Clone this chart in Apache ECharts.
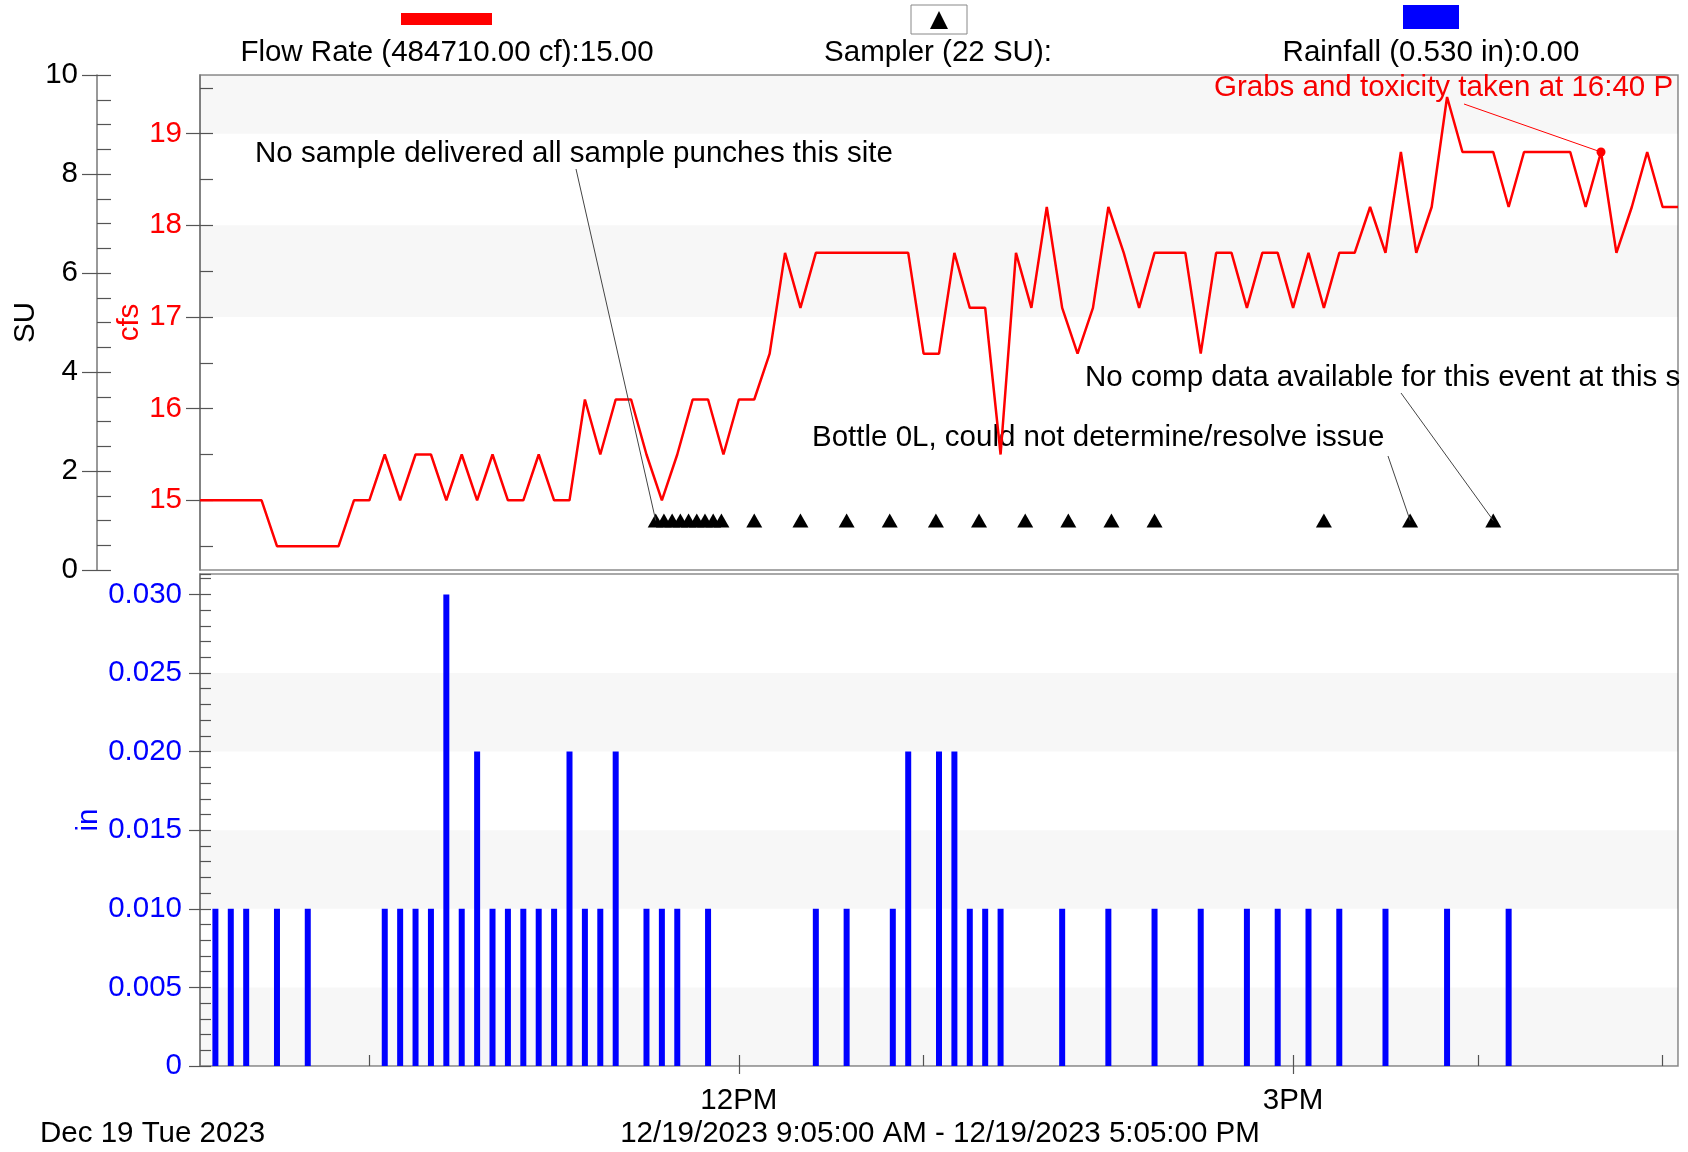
<!DOCTYPE html>
<html>
<head>
<meta charset="utf-8">
<script src="https://cdn.jsdelivr.net/npm/echarts@6/dist/echarts.min.js"></script>
<style>
  html, body { margin: 0; padding: 0; background: #fff; }
  #chart { width: 1688px; height: 1152px; }
</style>
</head>
<body>
<div id="chart"></div>
<script>
const startTime = '09:05'
const endTime = '17:05'
const stepMinutes = 5

// flow rate (cfs), one reading every 5 minutes from 9:05 AM
const flowValues = [
  15.0, 15.0, 15.0, 15.0, 15.0, 14.5, 14.5, 14.5, 14.5, 14.5, // 9:05
  15.0, 15.0, 15.5, 15.0, 15.5, 15.5, 15.0, 15.5, 15.0, 15.5, // 9:55
  15.0, 15.0, 15.5, 15.0, 15.0, 16.1, 15.5, 16.1, 16.1, 15.5, // 10:45
  15.0, 15.5, 16.1, 16.1, 15.5, 16.1, 16.1, 16.6, 17.7, 17.1, // 11:35
  17.7, 17.7, 17.7, 17.7, 17.7, 17.7, 17.7, 16.6, 16.6, 17.7, // 12:25
  17.1, 17.1, 15.5, 17.7, 17.1, 18.2, 17.1, 16.6, 17.1, 18.2, // 13:15
  17.7, 17.1, 17.7, 17.7, 17.7, 16.6, 17.7, 17.7, 17.1, 17.7, // 14:05
  17.7, 17.1, 17.7, 17.1, 17.7, 17.7, 18.2, 17.7, 18.8, 17.7, // 14:55
  18.2, 19.4, 18.8, 18.8, 18.8, 18.2, 18.8, 18.8, 18.8, 18.8, // 15:45
  18.2, 18.8, 17.7, 18.2, 18.8, 18.2, 18.2                    // 16:35
]

// sampler punches (SU)
const sampleTimes = ['11:33:00', '11:35:40', '11:38:20', '11:41:00', '11:43:40', '11:46:20', '11:49:00',
  '11:51:40', '11:54:20', '12:05', '12:20', '12:35', '12:49', '13:04', '13:18', '13:33', '13:47',
  '14:01', '14:15', '15:10', '15:38', '16:05']
const sampleValues = [1, 1, 1, 1, 1, 1, 1, 1, 1, 1, 1, 1, 1, 1, 1, 1, 1, 1, 1, 1, 1, 1]

// rainfall (in)
const rainTimes = ['09:10', '09:15', '09:20', '09:30', '09:40', '10:05', '10:10', '10:15', '10:20', '10:25',
  '10:30', '10:35', '10:40', '10:45', '10:50', '10:55', '11:00', '11:05', '11:10', '11:15',
  '11:20', '11:30', '11:35', '11:40', '11:50', '12:25', '12:35', '12:50', '12:55', '13:05',
  '13:10', '13:15', '13:20', '13:25', '13:45', '14:00', '14:15', '14:30', '14:45', '14:55',
  '15:05', '15:15', '15:30', '15:50', '16:10']
const rainValues = [0.01, 0.01, 0.01, 0.01, 0.01, 0.01, 0.01, 0.01, 0.01, 0.03,
  0.01, 0.02, 0.01, 0.01, 0.01, 0.01, 0.01, 0.02, 0.01, 0.01,
  0.02, 0.01, 0.01, 0.01, 0.01, 0.01, 0.01, 0.01, 0.02, 0.02,
  0.02, 0.01, 0.01, 0.01, 0.01, 0.01, 0.01, 0.01, 0.01, 0.01,
  0.01, 0.01, 0.01, 0.01, 0.01]

// tick labels
const hourTicks = ['10:00', '11:00', '12:00', '13:00', '14:00', '15:00', '16:00', '17:00']
const labelTimes = ['12:00', '15:00']
const labelTexts = ['12PM', '3PM']
const cfsTicks = [15, 16, 17, 18, 19]
const cfsMinorTicks = [14.5, 15.5, 16.5, 17.5, 18.5, 19.5]

const grabTime = '16:40'

const FONT = '"Liberation Sans", Arial, sans-serif'
const FS = 29.5
const toMin = t => {
  const p = t.split(':').map(Number)
  return p[0] * 60 + p[1] + (p[2] || 0) / 60
}
const xMin = toMin(startTime)
const xMax = toMin(endTime)

const flowData = flowValues.map((v, i) => [xMin + i * stepMinutes, v])
const sampleData = sampleTimes.map((t, i) => [toMin(t), sampleValues[i]])
const rainData = rainTimes.map((t, i) => [toMin(t), rainValues[i]])
const grabIndex = (toMin(grabTime) - xMin) / stepMinutes

const band = 'rgba(0,0,0,0.03)'
const leader = { color: '#444', width: 1, type: 'solid' }
const tickStyle = { color: '#555', width: 1.2 }

const chart = echarts.init(document.getElementById('chart'))

chart.setOption({
  animation: false,
  textStyle: { fontFamily: FONT },
  grid: [
    { left: 200, right: 10, top: 75, height: 495, show: true, borderColor: '#8c8c8c', borderWidth: 1.5, containLabel: false, outerBoundsMode: 'none' },
    { left: 200, right: 10, top: 574, height: 492, show: true, borderColor: '#8c8c8c', borderWidth: 1.5, containLabel: false, outerBoundsMode: 'none' }
  ],
  xAxis: [
    { type: 'value', gridIndex: 0, position: 'bottom', min: xMin, max: xMax, show: false },
    {
      type: 'value', gridIndex: 1, position: 'bottom', min: xMin, max: xMax,
      axisLine: { show: false },
      axisTick: { inside: true, length: 11, customValues: hourTicks.map(toMin), lineStyle: tickStyle },
      axisLabel: { show: false },
      splitLine: { show: false }
    },
    {
      type: 'value', gridIndex: 1, position: 'bottom', min: xMin, max: xMax,
      axisLine: { show: false },
      axisTick: { inside: false, length: 8, customValues: labelTimes.map(toMin), lineStyle: tickStyle },
      axisLabel: {
        customValues: labelTimes.map(toMin),
        formatter: v => labelTexts[labelTimes.map(toMin).indexOf(v)] || '',
        color: '#000', fontSize: FS, margin: 20, fontFamily: FONT
      },
      splitLine: { show: false }
    }
  ],
  yAxis: [
    {
      type: 'value', gridIndex: 0, position: 'left', min: 14.24, max: 19.64,
      name: 'cfs', nameLocation: 'middle', nameGap: 55, nameRotate: 90, nameMoveOverlap: false,
      nameTextStyle: { color: '#ff0000', fontSize: FS, fontFamily: FONT },
      axisLine: { show: true, lineStyle: { color: '#777', width: 1.5 } },
      axisTick: { inside: false, length: 14, customValues: cfsTicks, lineStyle: tickStyle },
      axisLabel: { customValues: cfsTicks, color: '#ff0000', fontSize: FS, margin: 18, fontFamily: FONT },
      splitLine: { show: false }
    },
    {
      type: 'value', gridIndex: 0, position: 'left', min: 14.24, max: 19.64,
      axisLine: { show: false },
      axisTick: { inside: true, length: 13, customValues: cfsTicks.concat(cfsMinorTicks), lineStyle: tickStyle },
      axisLabel: { show: false },
      splitLine: { show: false }
    },
    {
      type: 'value', gridIndex: 0, position: 'left', min: 0, max: 10, interval: 2, offset: 103,
      name: 'SU', nameLocation: 'middle', nameGap: 56, nameRotate: 90, nameMoveOverlap: false,
      nameTextStyle: { color: '#000', fontSize: FS, fontFamily: FONT },
      axisLine: { show: true, lineStyle: { color: '#777', width: 1.5 } },
      axisTick: { inside: false, length: 15, lineStyle: tickStyle },
      axisLabel: { color: '#000', fontSize: FS, margin: 19, fontFamily: FONT },
      splitLine: { show: false }
    },
    {
      type: 'value', gridIndex: 0, position: 'left', min: 0, max: 10, interval: 0.5, offset: 103,
      axisLine: { show: false },
      axisTick: { inside: true, length: 14, lineStyle: tickStyle },
      axisLabel: { show: false },
      splitLine: { show: false }
    },
    {
      type: 'value', gridIndex: 1, position: 'left', min: 0, max: 0.0313, interval: 0.005,
      name: 'in', nameLocation: 'middle', nameGap: 96, nameRotate: 90, nameMoveOverlap: false,
      nameTextStyle: { color: '#0000ff', fontSize: FS, fontFamily: FONT },
      axisLine: { show: true, lineStyle: { color: '#777', width: 1.5 } },
      axisTick: { inside: false, length: 11, lineStyle: tickStyle },
      axisLabel: {
        color: '#0000ff', fontSize: FS, margin: 18, fontFamily: FONT, showMaxLabel: false,
        formatter: v => v === 0 ? '0' : v.toFixed(3)
      },
      splitLine: { show: false }
    },
    {
      type: 'value', gridIndex: 1, position: 'left', min: 0, max: 0.0313, interval: 0.001,
      axisLine: { show: false },
      axisTick: { inside: true, length: 11, lineStyle: tickStyle },
      axisLabel: { show: false },
      splitLine: { show: false }
    }
  ],
  series: [
    {
      name: 'Flow Rate',
      type: 'line',
      xAxisIndex: 0,
      yAxisIndex: 0,
      data: flowData,
      showSymbol: false,
      lineStyle: { color: '#ff0000', width: 2.5 },
      z: 3,
      markArea: {
        silent: true,
        itemStyle: { color: band },
        data: [
          [{ yAxis: 17 }, { yAxis: 18 }],
          [{ yAxis: 19 }, { yAxis: 19.64 }]
        ]
      },
      markPoint: {
        silent: true,
        symbol: 'circle',
        symbolSize: 9,
        itemStyle: { color: '#ff0000' },
        label: { show: false },
        data: [{ coord: flowData[grabIndex] }]
      },
      markLine: {
        silent: true,
        symbol: ['none', 'none'],
        label: { show: false },
        lineStyle: { color: '#ff0000', width: 1, type: 'solid' },
        data: [[{ x: 1464, y: 104 }, { coord: flowData[grabIndex] }]]
      }
    },
    {
      name: 'Sampler',
      type: 'scatter',
      xAxisIndex: 0,
      yAxisIndex: 2,
      data: sampleData,
      symbol: 'triangle',
      symbolSize: [16, 14],
      itemStyle: { color: '#000', opacity: 1 },
      z: 4,
      markLine: {
        silent: true,
        symbol: ['none', 'none'],
        label: { show: false },
        lineStyle: leader,
        data: [
          [{ x: 576, y: 169 }, { coord: sampleData[0] }],
          [{ x: 1388, y: 456 }, { coord: sampleData[20] }],
          [{ x: 1401, y: 393 }, { coord: sampleData[21] }]
        ]
      }
    },
    {
      name: 'Rainfall',
      type: 'bar',
      xAxisIndex: 1,
      yAxisIndex: 4,
      data: rainData,
      barWidth: 6,
      itemStyle: { color: '#0000ff' },
      markArea: {
        silent: true,
        itemStyle: { color: band },
        data: [
          [{ yAxis: 0 }, { yAxis: 0.005 }],
          [{ yAxis: 0.010 }, { yAxis: 0.015 }],
          [{ yAxis: 0.020 }, { yAxis: 0.025 }]
        ]
      }
    }
  ],
  graphic: [
    // legend swatches
    { type: 'rect', shape: { x: 401, y: 13, width: 91, height: 12 }, style: { fill: '#ff0000' } },
    { type: 'rect', shape: { x: 911, y: 5, width: 56, height: 29 }, style: { fill: '#fff', stroke: '#888', lineWidth: 1 } },
    { type: 'polygon', shape: { points: [[939, 11], [930, 29], [948, 29]] }, style: { fill: '#000' } },
    { type: 'rect', shape: { x: 1403, y: 5, width: 56, height: 24 }, style: { fill: '#0000ff' } },
    // legend texts
    { type: 'text', style: { text: 'Flow Rate (484710.00 cf):15.00', x: 447, y: 53, align: 'center', verticalAlign: 'middle', font: FS + 'px ' + FONT, fill: '#000' } },
    { type: 'text', style: { text: 'Sampler (22 SU):', x: 938, y: 53, align: 'center', verticalAlign: 'middle', font: FS + 'px ' + FONT, fill: '#000' } },
    { type: 'text', style: { text: 'Rainfall (0.530 in):0.00', x: 1431, y: 53, align: 'center', verticalAlign: 'middle', font: FS + 'px ' + FONT, fill: '#000' } },
    // notes
    { type: 'text', style: { text: 'No sample delivered all sample punches this site', x: 255, y: 154, verticalAlign: 'middle', font: FS + 'px ' + FONT, fill: '#000' } },
    { type: 'text', style: { text: 'Bottle 0L, could not determine/resolve issue', x: 812, y: 438, verticalAlign: 'middle', font: FS + 'px ' + FONT, fill: '#000' } },
    { type: 'text', style: { text: 'No comp data available for this event at this site', x: 1085, y: 378, verticalAlign: 'middle', font: FS + 'px ' + FONT, fill: '#000', width: 597, overflow: 'truncate', ellipsis: '' } },
    { type: 'text', style: { text: 'Grabs and toxicity taken at 16:40 PM', x: 1214, y: 88, verticalAlign: 'middle', font: FS + 'px ' + FONT, fill: '#ff0000', width: 479, overflow: 'truncate', ellipsis: '' } },
    // footer
    { type: 'text', style: { text: 'Dec 19 Tue 2023', x: 40, y: 1134, verticalAlign: 'middle', font: FS + 'px ' + FONT, fill: '#000' } },
    { type: 'text', style: { text: '12/19/2023 9:05:00 AM - 12/19/2023 5:05:00 PM', x: 940, y: 1134, align: 'center', verticalAlign: 'middle', font: FS + 'px ' + FONT, fill: '#000' } }
  ]
})
</script>
</body>
</html>
